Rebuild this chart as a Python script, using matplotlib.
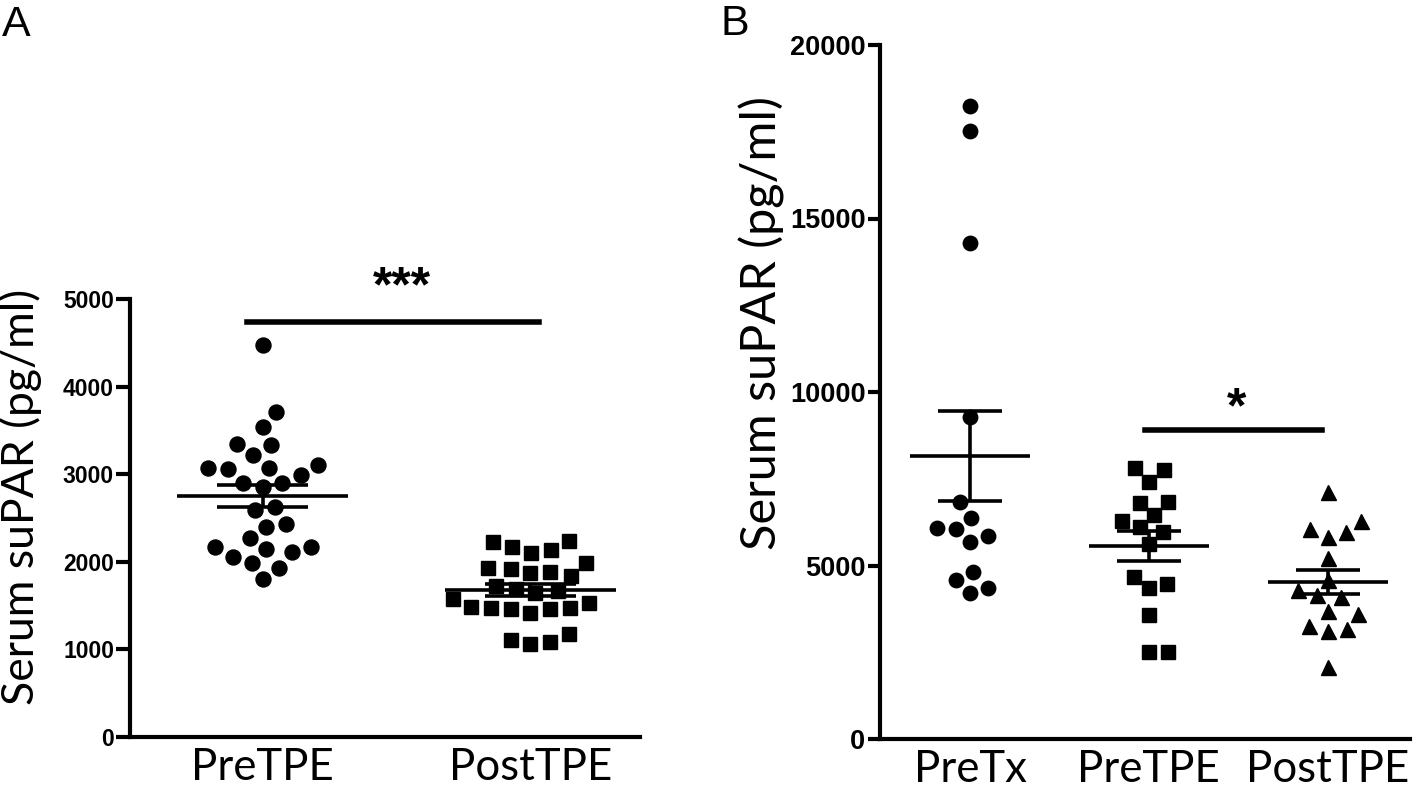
import numpy as np
import matplotlib.pyplot as plt

# panel A : serum suPAR (pg/ml)
a_groups = ["PreTPE", "PostTPE"]
a_pre = [4475, 3714, 3542, 3330, 3345, 3219, 3067, 2991, 3101, 3055, 3074, 2903, 2857, 2903,
         2591, 2622, 2401, 2432, 2275, 2165, 2108, 2058, 2146, 2172, 1990, 1933, 1800]
a_post = [2135, 2230, 2241, 2104, 2172, 1990, 1887, 1838, 1933, 1876, 1914, 1724, 1685, 1667,
          1640, 1579, 1476, 1469, 1457, 1419, 1457, 1481, 1533, 1107, 1062, 1088, 1176]
a_yticks = [0, 1000, 2000, 3000, 4000, 5000]

# panel B
b_groups = ["PreTx", "PreTPE", "PostTPE"]
b_pretx = [18242, 17522, 14294, 9271, 6821, 6378, 6072, 6043, 5850, 5669, 4821, 4582, 4360, 4199]
b_pretpe = [7752, 7801, 7415, 6810, 6821, 6291, 6455, 5974, 6101, 5620, 4677, 4343, 4467, 3573,
            2499, 2516]
b_posttpe = [7110, 6291, 5830, 5957, 6052, 5207, 4582, 4294, 4101, 4141, 3594, 3697, 3161, 3112,
             3256, 2066]
b_yticks = [0, 5000, 10000, 15000, 20000]

W, H = 1417, 791
LABEL_FONT = "Lato"
NUM_FONT = "Liberation Sans"


def swarm(ax, x0, values, diam):
    # simple beeswarm, diam in pixels
    xl = ax.get_xlim()
    yl = ax.get_ylim()
    sx = ax.bbox.width / (xl[1] - xl[0])
    sy = ax.bbox.height / (yl[1] - yl[0])
    values = np.asarray(values, dtype=float)
    xs = np.zeros(len(values))
    placed = []
    for i in np.argsort(values):
        y = values[i] * sy
        near = [(px, py) for px, py in placed if abs(py - y) < diam]
        cands = [0.0]
        for px, py in near:
            dx = np.sqrt(diam ** 2 - (py - y) ** 2)
            cands += [px + dx, px - dx]
        cands.sort(key=lambda c: (abs(c), -c))
        for c in cands:
            if all((c - px) ** 2 + (y - py) ** 2 >= diam ** 2 - 1e-6 for px, py in near):
                break
        placed.append((c, y))
        xs[i] = c
    return x0 + xs / sx


def group(ax, x0, values, marker, ms, diam, half=0.32, cap=0.17):
    xs = swarm(ax, x0, values, diam)
    ax.plot(xs, values, marker, color="black", ms=ms, linestyle="none", zorder=2)
    v = np.asarray(values, dtype=float)
    m = v.mean()
    sem = v.std(ddof=1) / np.sqrt(len(v))
    ax.hlines(m, x0 - half, x0 + half, color="black", lw=2.6, zorder=3)
    ax.hlines([m - sem, m + sem], x0 - cap, x0 + cap, color="black", lw=2.6, zorder=3)
    ax.vlines(x0, m - sem, m + sem, color="black", lw=2.6, zorder=3)


def style(ax, groups, yticks, ticksize, ticklen):
    for s in ["top", "right"]:
        ax.spines[s].set_visible(False)
    for s in ["left", "bottom"]:
        ax.spines[s].set_linewidth(3)
    ax.set_xticks(range(len(groups)))
    ax.set_xticklabels(groups, fontsize=31.5, family=LABEL_FONT)
    ax.tick_params(axis="x", length=0, pad=7)
    ax.set_yticks(yticks)
    ax.set_yticklabels([str(t) for t in yticks], fontsize=ticksize, family=NUM_FONT,
                       fontweight="bold")
    ax.tick_params(axis="y", length=ticklen, width=3, pad=1.5)


fig = plt.figure(figsize=(W / 100, H / 100), dpi=100)

axA = fig.add_axes([130 / W, 54 / H, 510 / W, 438 / H])
axA.set_xlim(-0.496, 1.41)
axA.set_ylim(0, 5000)
style(axA, a_groups, a_yticks, 16.5, 10)
axA.set_ylabel("Serum suPAR (pg/ml)", fontsize=32, family=LABEL_FONT)
axA.yaxis.set_label_coords(-0.172, 0.548)
group(axA, 0, a_pre, "o", 10.8, 20)
group(axA, 1, a_post, "s", 10.4, 20)
axA.plot([-0.06, 1.034], [4737, 4737], color="black", lw=4, clip_on=False)
axA.text(0.519, 5120, "***", ha="center", va="center", fontsize=36, fontweight="bold",
         family=NUM_FONT)

axB = fig.add_axes([880 / W, 52 / H, 530 / W, 694 / H])
axB.set_xlim(-0.503, 2.46)
axB.set_ylim(0, 20000)
style(axB, b_groups, b_yticks, 19.5, 9)
axB.set_ylabel("Serum suPAR (pg/ml)", fontsize=35, family=LABEL_FONT)
axB.yaxis.set_label_coords(-0.18, 0.6)
group(axB, 0, b_pretx, "o", 10.4, 19, half=0.335, cap=0.18)
group(axB, 1, b_pretpe, "s", 10.4, 19, half=0.335, cap=0.18)
group(axB, 2, b_posttpe, "^", 10.8, 19, half=0.335, cap=0.18)
axB.plot([0.978, 1.97], [8905, 8905], color="black", lw=4, clip_on=False)
axB.text(1.49, 9500, "*", ha="center", va="center", fontsize=36, fontweight="bold",
         family=NUM_FONT)

fig.text(2 / W, 1 - 36 / H, "A", fontsize=31, family=NUM_FONT, va="baseline")
fig.text(720 / W, 1 - 35 / H, "B", fontsize=31, family=NUM_FONT, va="baseline")

fig.savefig("out.png", dpi=100)
